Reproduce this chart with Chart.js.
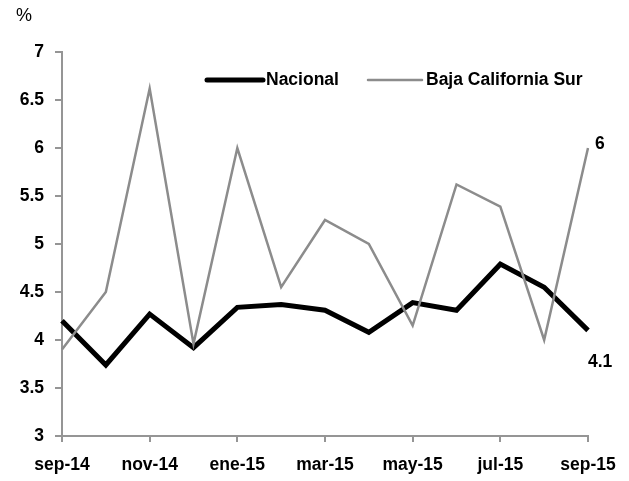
<!DOCTYPE html>
<html>
<head>
<meta charset="utf-8">
<script src="https://cdn.jsdelivr.net/npm/chart.js@4"></script>
<style>
  html, body { margin: 0; padding: 0; background: #fff; }
  #wrap { width: 629px; height: 481px; position: relative; }
</style>
</head>
<body>
<div id="wrap"><canvas id="chart" width="629" height="481"></canvas></div>
<script>
const months = ['sep-14', 'oct-14', 'nov-14', 'dic-14', 'ene-15', 'feb-15', 'mar-15',
                'abr-15', 'may-15', 'jun-15', 'jul-15', 'ago-15', 'sep-15'];
const nacional = [4.2, 3.74, 4.27, 3.92, 4.34, 4.37, 4.31, 4.08, 4.39, 4.31, 4.79, 4.55, 4.1];
const bajaCaliforniaSur = [3.9, 4.5, 6.62, 3.96, 6.0, 4.55, 5.25, 5.0, 4.15, 5.62, 5.39, 4.0, 6.0];
const yTicks = [3, 3.5, 4, 4.5, 5, 5.5, 6, 6.5, 7];

const FONT = '"Liberation Sans", Arial, sans-serif';
const SIZE = 17.5;
const axisGray = '#959595';
const lineGray = '#8c8c8c';

// legenda, "%" y etiquetas del ultimo dato
const extras = {
    id: 'extras',
    afterDraw(chart) {
        const ctx = chart.ctx;
        ctx.save();
        ctx.fillStyle = '#000';
        ctx.font = '18px ' + FONT;
        ctx.textBaseline = 'middle';
        ctx.fillText('%', 16, 16);

        // legenda
        const items = [
            { x1: 207, x2: 263, tx: 266, ds: chart.data.datasets[0] },
            { x1: 368, x2: 422, tx: 426, ds: chart.data.datasets[1] }
        ];
        ctx.font = 'bold ' + SIZE + 'px ' + FONT;
        items.forEach(it => {
            ctx.beginPath();
            ctx.strokeStyle = it.ds.borderColor;
            ctx.lineWidth = it.ds.borderWidth;
            ctx.lineCap = 'round';
            ctx.moveTo(it.x1, 80);
            ctx.lineTo(it.x2, 80);
            ctx.stroke();
            ctx.fillStyle = '#000';
            ctx.fillText(it.ds.label, it.tx, 80);
        });

        // valores finales
        const last = months.length - 1;
        const pN = chart.getDatasetMeta(0).data[last];
        const pB = chart.getDatasetMeta(1).data[last];
        ctx.fillText(String(bajaCaliforniaSur[last]), pB.x + 7, pB.y - 4);
        ctx.fillText(String(nacional[last]), pN.x, pN.y + 32);
        ctx.restore();
    }
};

new Chart(document.getElementById('chart'), {
    type: 'line',
    data: {
        labels: months,
        datasets: [
            { label: 'Nacional', data: nacional, borderColor: '#000', borderWidth: 5,
              pointRadius: 0, tension: 0, order: 2 },
            { label: 'Baja California Sur', data: bajaCaliforniaSur, borderColor: lineGray,
              borderWidth: 2.5, pointRadius: 0, tension: 0, order: 1 }
        ]
    },
    options: {
        responsive: false,
        animation: false,
        devicePixelRatio: 1,
        layout: { padding: { top: 52, right: 41, left: 0, bottom: 0 } },
        plugins: { legend: { display: false }, tooltip: { enabled: false } },
        scales: {
            x: {
                offset: false,
                grid: {
                    drawOnChartArea: false, drawTicks: true, tickLength: 6, lineWidth: 2,
                    color: c => (c.index % 2 === 0 ? axisGray : 'rgba(0,0,0,0)')
                },
                border: { color: axisGray, width: 2 },
                ticks: {
                    autoSkip: false, maxRotation: 0, padding: 13, color: '#000',
                    font: { family: FONT, size: SIZE, weight: 'bold' },
                    callback: (v, i) => (i % 2 === 0 ? months[i] : '')
                },
                afterFit: s => { s.height = 45; }
            },
            y: {
                min: 3, max: 7,
                afterBuildTicks: s => { s.ticks = yTicks.map(v => ({ value: v })); },
                grid: { drawOnChartArea: false, drawTicks: true, tickLength: 7, lineWidth: 2, color: axisGray },
                border: { color: axisGray, width: 2 },
                ticks: {
                    padding: 11, color: '#000',
                    font: { family: FONT, size: SIZE, weight: 'bold' },
                    callback: v => String(v)
                },
                afterFit: s => { s.width = 62; }
            }
        }
    },
    plugins: [extras]
});
</script>
</body>
</html>
